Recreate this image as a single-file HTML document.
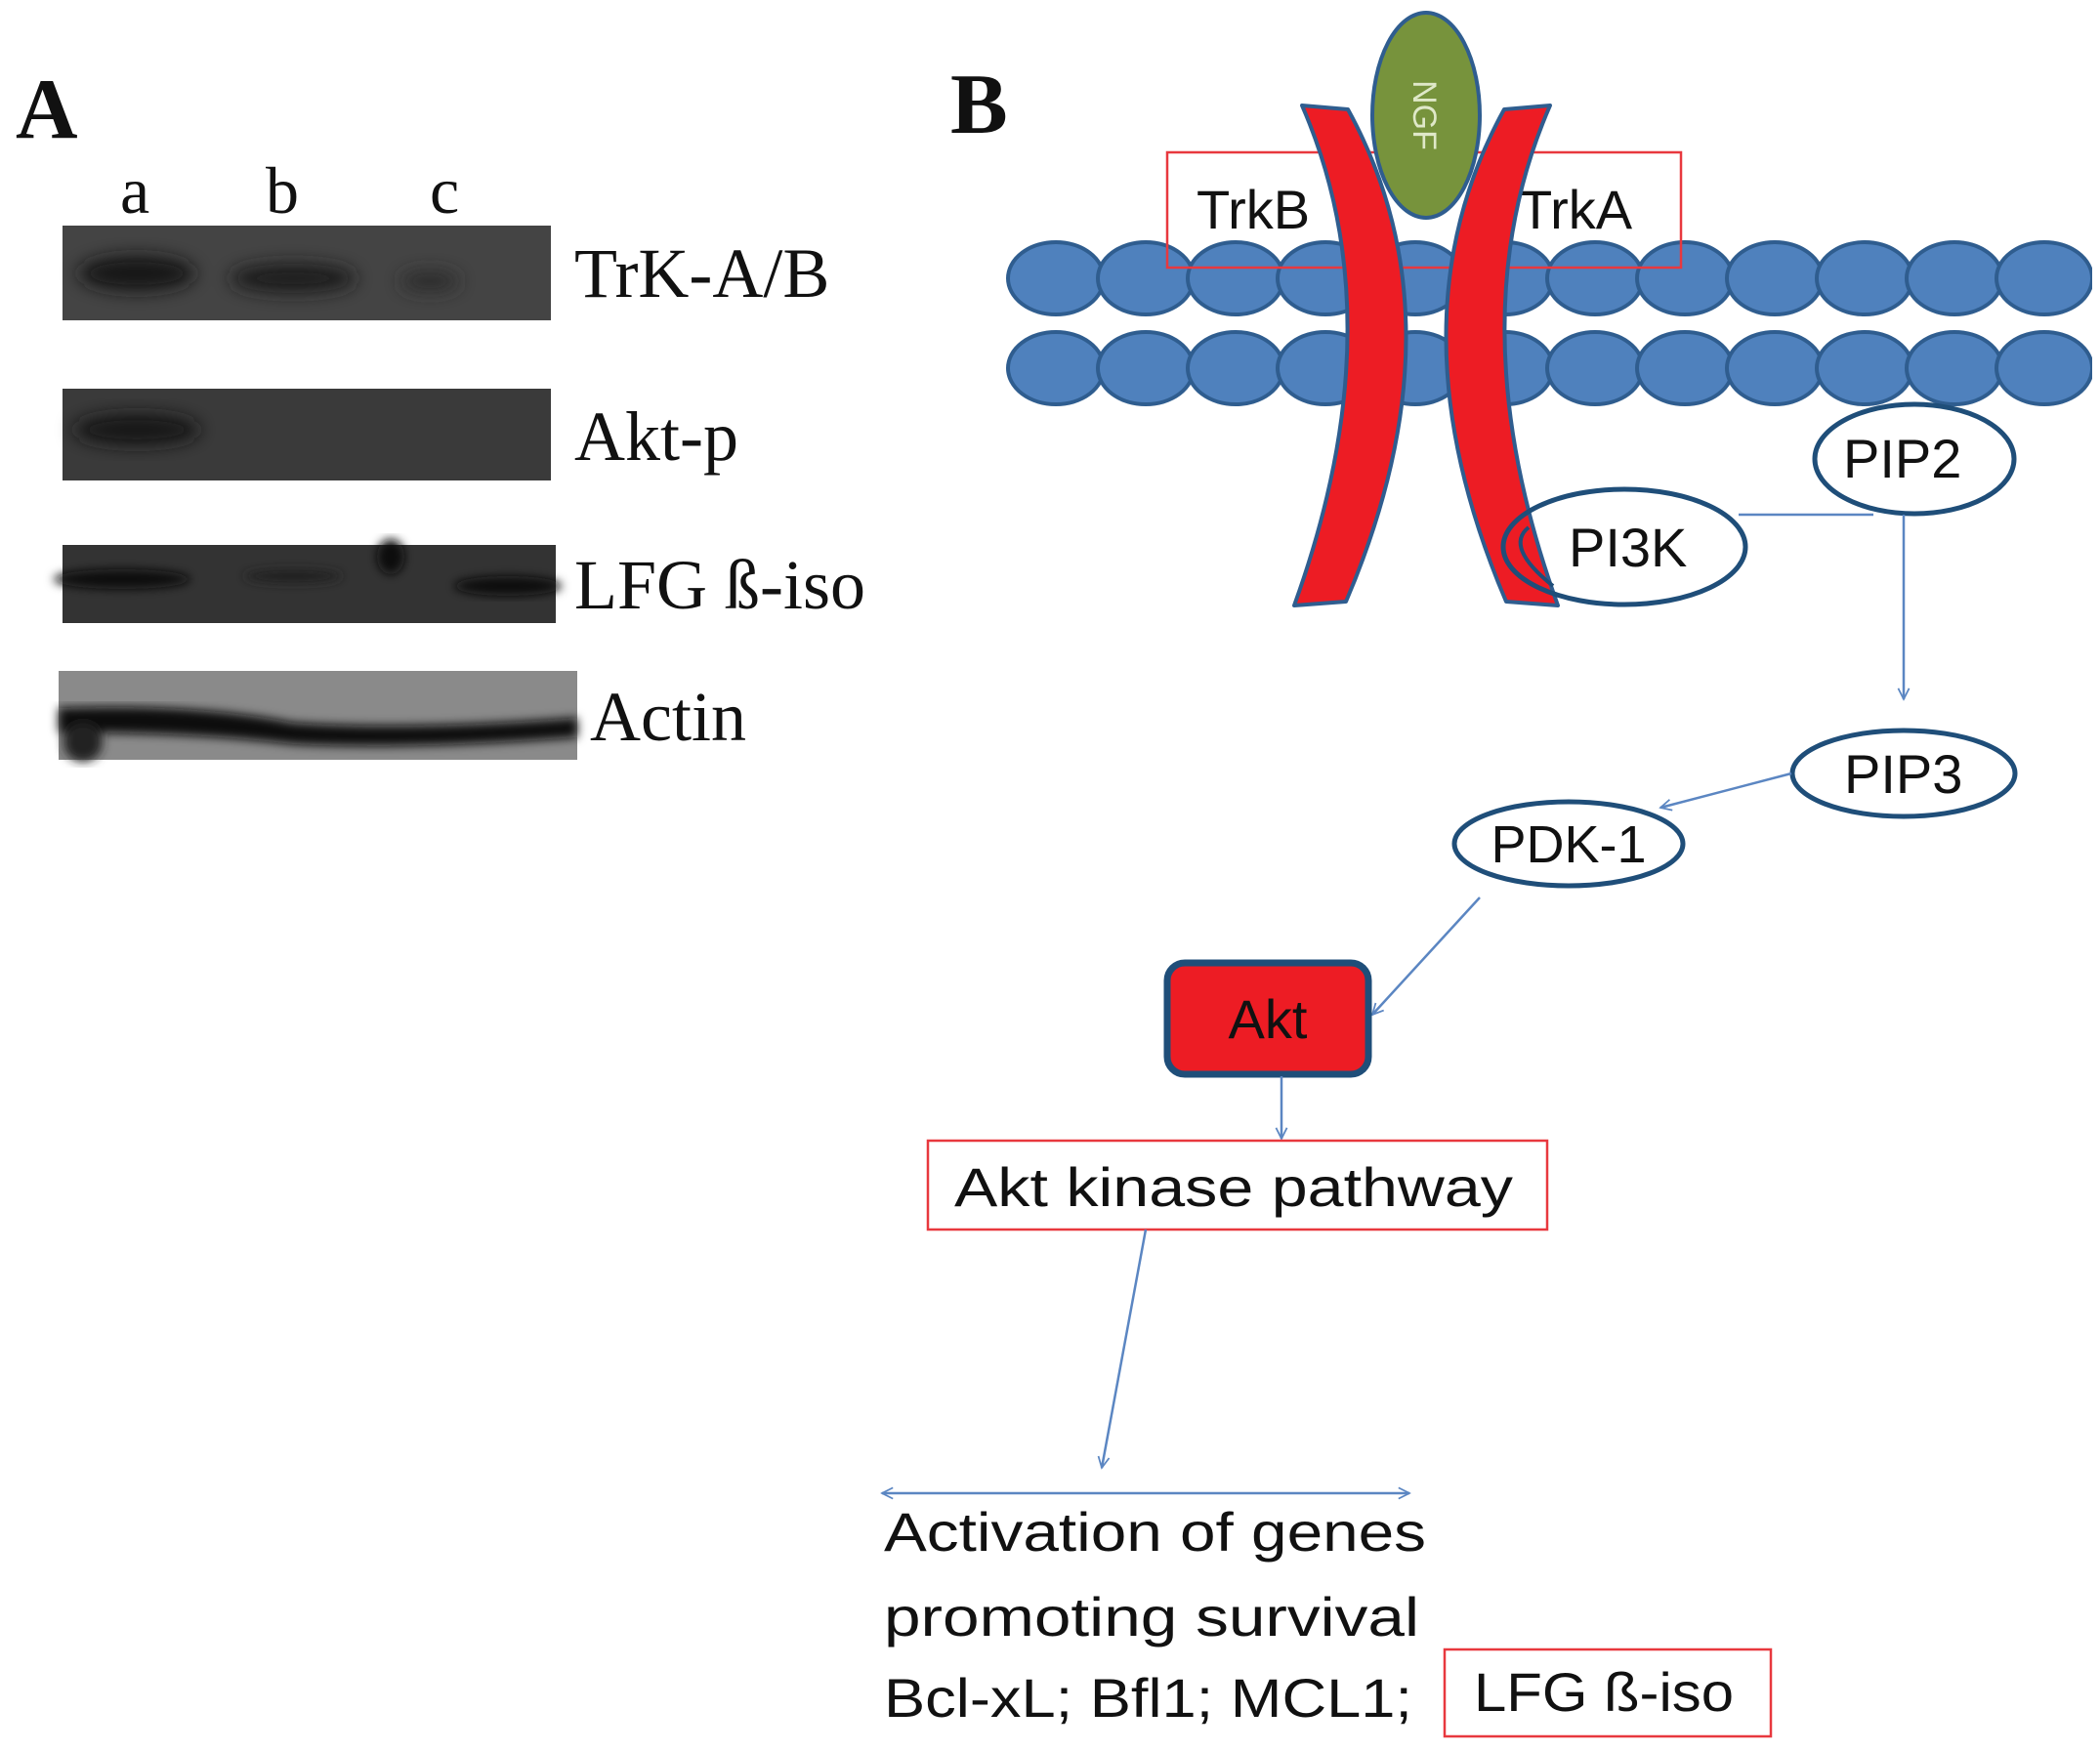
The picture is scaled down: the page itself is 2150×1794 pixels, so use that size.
<!DOCTYPE html>
<html><head><meta charset="utf-8"><style>
html,body{margin:0;padding:0;background:#fff;}
svg{display:block;}
.s{font-family:"Liberation Sans",sans-serif;fill:#111;}
.t{font-family:"Liberation Serif",serif;fill:#111;}
</style></head><body>
<svg width="2150" height="1794" viewBox="0 0 2150 1794" xmlns="http://www.w3.org/2000/svg">
<defs>
<marker id="ah" viewBox="0 0 20 20" refX="18" refY="10" markerWidth="14" markerHeight="14" markerUnits="userSpaceOnUse" orient="auto-start-reverse">
<path d="M2,2 L18,10 L2,18" fill="none" stroke="#5b86c2" stroke-width="2.5"/>
</marker>
<filter id="blur" x="-20%" y="-50%" width="140%" height="200%"><feGaussianBlur stdDeviation="9"/></filter>
<filter id="blur2"><feGaussianBlur stdDeviation="5"/></filter>
</defs>
<rect width="2150" height="1794" fill="#fff"/>

<!-- Panel A -->
<text x="16" y="141" class="t" font-size="88" font-weight="bold">A</text>
<text x="123" y="218" class="t" font-size="68">a</text>
<text x="272" y="218" class="t" font-size="68">b</text>
<text x="440" y="218" class="t" font-size="68">c</text>

<rect x="64" y="231" width="500" height="97" fill="#444"/>
<g filter="url(#blur)">
<ellipse cx="140" cy="280" rx="60" ry="18" fill="#151515"/>
<ellipse cx="300" cy="285" rx="65" ry="15" fill="#1c1c1c"/>
<ellipse cx="440" cy="288" rx="30" ry="10" fill="#2a2a2a"/>
</g>
<text x="588" y="304" class="t" font-size="72">TrK-A/B</text>

<rect x="64" y="398" width="500" height="94" fill="#3a3a3a"/>
<g filter="url(#blur)"><ellipse cx="140" cy="440" rx="65" ry="16" fill="#161616"/></g>
<text x="588" y="471" class="t" font-size="72">Akt-p</text>

<rect x="64" y="558" width="505" height="80" fill="#333"/>
<g filter="url(#blur2)">
<ellipse cx="125" cy="593" rx="70" ry="10" fill="#0e0e0e"/>
<ellipse cx="300" cy="590" rx="50" ry="7" fill="#222"/>
<ellipse cx="520" cy="600" rx="55" ry="10" fill="#0e0e0e"/>
<ellipse cx="400" cy="570" rx="14" ry="18" fill="#111"/>
</g>
<text x="588" y="623" class="t" font-size="72">LFG ß-iso</text>

<rect x="60" y="687" width="531" height="91" fill="#8a8a8a"/>
<g filter="url(#blur2)">
<path d="M60,725 Q200,720 300,740 Q420,748 591,735 L591,755 Q420,768 300,762 Q200,750 60,750 Z" fill="#0a0a0a"/>
<ellipse cx="85" cy="760" rx="20" ry="20" fill="#222"/>
</g>
<text x="604" y="758" class="t" font-size="72">Actin</text>

<!-- Panel B -->
<text x="973" y="136" class="t" font-size="88" font-weight="bold">B</text>

<!-- membrane -->
<g fill="#4f81bd" stroke="#2f5d8f" stroke-width="4">
<ellipse cx="1081" cy="285" rx="49" ry="37"/><ellipse cx="1173" cy="285" rx="49" ry="37"/><ellipse cx="1265" cy="285" rx="49" ry="37"/><ellipse cx="1357" cy="285" rx="49" ry="37"/><ellipse cx="1449" cy="285" rx="49" ry="37"/><ellipse cx="1541" cy="285" rx="49" ry="37"/><ellipse cx="1633" cy="285" rx="49" ry="37"/><ellipse cx="1725" cy="285" rx="49" ry="37"/><ellipse cx="1817" cy="285" rx="49" ry="37"/><ellipse cx="1909" cy="285" rx="49" ry="37"/><ellipse cx="2001" cy="285" rx="49" ry="37"/><ellipse cx="2093" cy="285" rx="49" ry="37"/>
<ellipse cx="1081" cy="377" rx="49" ry="37"/><ellipse cx="1173" cy="377" rx="49" ry="37"/><ellipse cx="1265" cy="377" rx="49" ry="37"/><ellipse cx="1357" cy="377" rx="49" ry="37"/><ellipse cx="1449" cy="377" rx="49" ry="37"/><ellipse cx="1541" cy="377" rx="49" ry="37"/><ellipse cx="1633" cy="377" rx="49" ry="37"/><ellipse cx="1725" cy="377" rx="49" ry="37"/><ellipse cx="1817" cy="377" rx="49" ry="37"/><ellipse cx="1909" cy="377" rx="49" ry="37"/><ellipse cx="2001" cy="377" rx="49" ry="37"/><ellipse cx="2093" cy="377" rx="49" ry="37"/>
</g>
<rect x="2142" y="240" width="8" height="190" fill="#fff"/>

<!-- Trk box -->
<rect x="1195" y="156" width="526" height="118" fill="none" stroke="#e8383e" stroke-width="2.5"/>
<text x="1225" y="234" class="s" font-size="56">TrkB</text>
<text x="1555" y="234" class="s" font-size="56">TrkA</text>

<!-- NGF -->
<ellipse cx="1460" cy="118" rx="55" ry="105" fill="#77933c" stroke="#2f5d8f" stroke-width="4"/>
<text x="0" y="0" class="s" font-size="34" fill="#dfe8c8" style="fill:#dfe8c8" transform="translate(1447,118) rotate(90)" text-anchor="middle">NGF</text>

<!-- receptor arms -->
<path d="M1333,108 Q1430,330 1325,620 L1378,616 Q1500,330 1380,112 Z" fill="#ed1c24" stroke="#2f5d8f" stroke-width="4" stroke-linejoin="round"/>
<path d="M1587,108 Q1490,330 1595,620 L1542,616 Q1420,330 1540,112 Z" fill="#ed1c24" stroke="#2f5d8f" stroke-width="4" stroke-linejoin="round"/>

<!-- PI3K -->
<line x1="1780" y1="527" x2="1918" y2="527" stroke="#5b86c2" stroke-width="2.5"/>
<ellipse cx="1663" cy="560" rx="124" ry="59" fill="#fff" fill-opacity="0" stroke="#1f4e79" stroke-width="5"/>
<path d="M1590,600 Q1540,560 1565,540" fill="none" stroke="#1f4e79" stroke-width="4"/>
<text x="1606" y="580" class="s" font-size="56">PI3K</text>

<!-- PIP2 -->
<ellipse cx="1960" cy="470" rx="102" ry="56" fill="#fff" stroke="#1f4e79" stroke-width="5"/>
<text x="1887" y="489" class="s" font-size="56">PIP2</text>
<line x1="1949" y1="527" x2="1949" y2="716" stroke="#5b86c2" stroke-width="2.5" marker-end="url(#ah)"/>

<!-- PIP3 -->
<ellipse cx="1949" cy="792" rx="114" ry="44" fill="#fff" stroke="#1f4e79" stroke-width="5"/>
<text x="1888" y="812" class="s" font-size="56">PIP3</text>
<line x1="1834" y1="792" x2="1700" y2="827" stroke="#5b86c2" stroke-width="2.5" marker-end="url(#ah)"/>

<!-- PDK-1 -->
<ellipse cx="1606" cy="864" rx="117" ry="43" fill="#fff" stroke="#1f4e79" stroke-width="5"/>
<text x="1606" y="883" class="s" font-size="54" text-anchor="middle">PDK-1</text>
<line x1="1515" y1="919" x2="1405" y2="1039" stroke="#5b86c2" stroke-width="2.5" marker-end="url(#ah)"/>

<!-- Akt -->
<rect x="1195" y="986" width="206" height="114" rx="18" fill="#ed1c24" stroke="#1f4e79" stroke-width="7"/>
<text x="1298" y="1063" class="s" font-size="56" text-anchor="middle">Akt</text>
<line x1="1312" y1="1102" x2="1312" y2="1166" stroke="#5b86c2" stroke-width="2.5" marker-end="url(#ah)"/>

<!-- Akt kinase pathway -->
<rect x="950" y="1168" width="634" height="91" fill="#fff" stroke="#e8383e" stroke-width="2.5"/>
<text x="977" y="1235" class="s" font-size="56" textLength="572" lengthAdjust="spacingAndGlyphs">Akt kinase pathway</text>
<line x1="1173" y1="1259" x2="1128" y2="1503" stroke="#5b86c2" stroke-width="2.5" marker-end="url(#ah)"/>

<!-- double arrow -->
<line x1="903" y1="1529" x2="1443" y2="1529" stroke="#5b86c2" stroke-width="2.5" marker-start="url(#ah)" marker-end="url(#ah)"/>

<text x="905" y="1588" class="s" font-size="56" textLength="555" lengthAdjust="spacingAndGlyphs">Activation of genes</text>
<text x="905" y="1675" class="s" font-size="56" textLength="548" lengthAdjust="spacingAndGlyphs">promoting survival</text>
<text x="905" y="1758" class="s" font-size="56" textLength="541" lengthAdjust="spacingAndGlyphs">Bcl-xL; Bfl1; MCL1;</text>

<rect x="1479" y="1689" width="334" height="89" fill="#fff" stroke="#e8383e" stroke-width="2.5"/>
<text x="1509" y="1752" class="s" font-size="56" textLength="266" lengthAdjust="spacingAndGlyphs">LFG ß-iso</text>
</svg>
</body></html>
